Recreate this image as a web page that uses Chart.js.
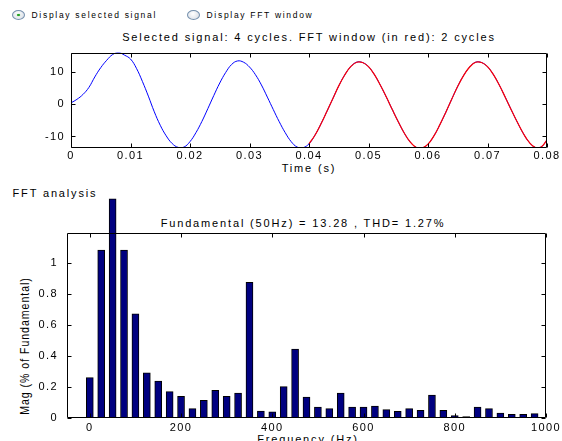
<!DOCTYPE html>
<html>
<head>
<meta charset="utf-8">
<script src="https://cdn.jsdelivr.net/npm/chart.js@4.4.0/dist/chart.umd.min.js"></script>
<style>
  body { margin: 0; background: #fff; width: 562px; height: 441px; overflow: hidden; position: relative;
         font-family: "Liberation Sans", Arial, sans-serif; color: #000; }
  .txt { position: absolute; white-space: nowrap; font-size: 11px; letter-spacing: 1.85px; line-height: 1; }
  .mid { transform: translateX(-50%); }
  .radio { position: absolute; top: 10px; width: 13px; height: 10px; border-radius: 50%; box-sizing: border-box;
           border: 1px solid #7590ad; background: radial-gradient(circle at 45% 35%, #ffffff, #d3d9e2); }
  .radio.on::after { content: ''; position: absolute; left: 4px; top: 3px; width: 3px; height: 2px;
                     border-radius: 50%; background: #22a022; box-shadow: 0 0 1px #22a022; }
  canvas { position: absolute; left: 0; }
</style>
</head>
<body>
<div class="radio on" style="left:12px"></div>
<div class="txt" style="left:31.5px; top:10.8px; font-size:8.5px; letter-spacing:1.7px">Display selected signal</div>
<div class="radio" style="left:187px"></div>
<div class="txt" style="left:206.5px; top:10.8px; font-size:8.5px; letter-spacing:1.7px">Display FFT window</div>

<div class="txt mid" style="left:309px; top:31.8px">Selected signal: 4 cycles. FFT window (in red): 2 cycles</div>
<div class="txt mid" style="left:309px; top:162.6px">Time (s)</div>
<div class="txt" style="left:12.5px; top:187.6px">FFT analysis</div>
<div class="txt mid" style="left:303px; top:217.6px">Fundamental (50Hz) = 13.28 , THD= 1.27%</div>
<div class="txt mid" style="left:308px; top:433.6px">Frequency (Hz)</div>
<div class="txt" style="left:25px; top:346px; font-size:12.5px; letter-spacing:1.2px; transform:translate(-50%,-50%) rotate(-90deg) scaleX(0.84)">Mag (% of Fundamental)</div>

<canvas id="sig" width="562" height="145" style="top:40px"></canvas>
<canvas id="fft" width="562" height="261" style="top:180px"></canvas>

<script>
let timeStep = 0.001
let signal = [
  0.5, 1.6, 3.1, 5.3, 8.6, 11.5, 13.8, 15.6, 16.2, 15.4,
  14.2, 11.3, 7.2, 2.6, -2.3, -6.5, -9.8, -12.2, -13.4, -13.3,
  -11.6, -8.8, -5.3, -1.3, 2.8, 6.7, 10.0, 12.5, 13.6, 13.2,
  11.7, 9.3, 6.1, 2.3, -1.6, -5.4, -8.8, -11.6, -13.3, -13.5,
  -12.3, -9.6, -6.1, -2.2, 1.8, 5.8, 9.2, 11.8, 13.2, 13.1,
  11.8, 9.3, 6.0, 2.3, -1.6, -5.4, -8.9, -11.7, -13.4, -13.6,
  -12.4, -9.8, -6.3, -2.4, 1.7, 5.7, 9.1, 11.7, 13.2, 13.1,
  11.8, 9.3, 6.0, 2.2, -1.7, -5.5, -9.0, -11.8, -13.4, -13.3,
  -11.1
]
let fftStart = 40   // FFT window starts at 0.04 s

let timeTicks = [0, 0.01, 0.02, 0.03, 0.04, 0.05, 0.06, 0.07, 0.08]
let signalTicks = [-10, 0, 10]

// FFT bars
let freqs = [
  0, 25, 50, 75, 100, 125, 150, 175, 200, 225,
  250, 275, 300, 325, 350, 375, 400, 425, 450, 475,
  500, 525, 550, 575, 600, 625, 650, 675, 700, 725,
  750, 775, 800, 825, 850, 875, 900, 925, 950, 975
]
let mags = [
  0.26, 1.08, 1.41, 1.08, 0.67, 0.29, 0.237, 0.17, 0.14, 0.06,
  0.114, 0.178, 0.14, 0.161, 0.873, 0.045, 0.039, 0.202, 0.443, 0.135,
  0.071, 0.06, 0.161, 0.071, 0.071, 0.077, 0.054, 0.043, 0.06, 0.049,
  0.148, 0.049, 0.015, 0.009, 0.071, 0.06, 0.032, 0.024, 0.024, 0.028
]
let freqTicks = [0, 200, 400, 600, 800, 1000]
let magTicks = [0, 0.2, 0.4, 0.6, 0.8, 1]

let tickFont = { family: "'Liberation Sans', Arial, sans-serif", size: 11 }

// matlab style: boxed axes with inward tick marks
let matlabBox = {
  id: 'matlabBox',
  beforeDraw(chart) { chart.ctx.letterSpacing = '1.4px' },
  afterDraw(chart) {
    let ctx = chart.ctx
    let a = chart.chartArea
    let x = chart.scales.x, y = chart.scales.y
    let L = 4
    let l = Math.round(a.left) + 0.5, r = Math.round(a.right) - 0.5
    let t = Math.round(a.top) + 0.5, b = Math.round(a.bottom) - 0.5
    ctx.save()
    ctx.strokeStyle = '#000'
    ctx.lineWidth = 1
    ctx.beginPath()
    ctx.rect(l, t, r - l, b - t)
    x.ticks.forEach(function (tk) {
      let px = Math.round(x.getPixelForValue(tk.value)) + 0.5
      ctx.moveTo(px, b); ctx.lineTo(px, b - L)
      ctx.moveTo(px, t); ctx.lineTo(px, t + L)
    })
    y.ticks.forEach(function (tk) {
      let py = Math.round(y.getPixelForValue(tk.value)) + 0.5
      ctx.moveTo(l, py); ctx.lineTo(l + L, py)
      ctx.moveTo(r, py); ctx.lineTo(r - L, py)
    })
    ctx.stroke()
    ctx.restore()
  }
}

function fixedTicks(list) {
  return function (scale) { scale.ticks = list.map(function (v) { return { value: v } }) }
}

let sigPoints = signal.map(function (v, i) { return { x: i * timeStep, y: v } })

new Chart(document.getElementById('sig'), {
  type: 'line',
  data: {
    datasets: [
      // first dataset is drawn on top: the FFT window in red
      { data: sigPoints.slice(fftStart), borderColor: 'rgb(255,0,0)', borderWidth: 1.2, pointRadius: 0, tension: 0.4 },
      { data: sigPoints, borderColor: 'rgb(0,0,255)', borderWidth: 1, pointRadius: 0, tension: 0.4 }
    ]
  },
  options: {
    responsive: false,
    animation: false,
    events: [],
    layout: { padding: { top: 8, right: 15, left: 0, bottom: 0 } },
    plugins: { legend: { display: false }, tooltip: { enabled: false } },
    scales: {
      x: {
        type: 'linear', min: 0, max: 0.08,
        afterBuildTicks: fixedTicks(timeTicks),
        afterFit: function (s) { s.height = 37 },
        grid: { display: false, drawTicks: false },
        border: { display: false },
        ticks: { padding: 1, color: '#000', font: tickFont, maxRotation: 0, autoSkip: false,
                 callback: function (v) { return String(v) } }
      },
      y: {
        min: -13.6, max: 16.2,
        afterBuildTicks: fixedTicks(signalTicks),
        afterFit: function (s) { s.width = 71 },
        grid: { display: false, drawTicks: false },
        border: { display: false },
        ticks: { padding: 6, color: '#000', font: tickFont, callback: function (v) { return String(v) } }
      }
    }
  },
  plugins: [matlabBox]
})

new Chart(document.getElementById('fft'), {
  type: 'bar',
  data: {
    datasets: [{
      data: freqs.map(function (f, i) { return { x: f, y: mags[i] } }),
      backgroundColor: 'rgb(0,0,128)',
      borderColor: '#000',
      borderWidth: 1,
      barThickness: 7,
      clip: false
    }]
  },
  options: {
    responsive: false,
    animation: false,
    events: [],
    layout: { padding: { top: 53, right: 16, left: 0, bottom: 0 } },
    plugins: { legend: { display: false }, tooltip: { enabled: false } },
    scales: {
      x: {
        type: 'linear', min: -50, max: 1000, offset: false,
        afterBuildTicks: fixedTicks(freqTicks),
        afterFit: function (s) { s.height = 23 },
        grid: { display: false, drawTicks: false },
        border: { display: false },
        ticks: { padding: 3, color: '#000', font: tickFont, maxRotation: 0, autoSkip: false,
                 callback: function (v) { return String(v) } }
      },
      y: {
        min: 0, max: 1.19,
        afterBuildTicks: fixedTicks(magTicks),
        afterFit: function (s) { s.width = 67 },
        grid: { display: false, drawTicks: false },
        border: { display: false },
        ticks: { padding: 9, color: '#000', font: tickFont, callback: function (v) { return String(v) } }
      }
    }
  },
  plugins: [matlabBox]
})
</script>
</body>
</html>
